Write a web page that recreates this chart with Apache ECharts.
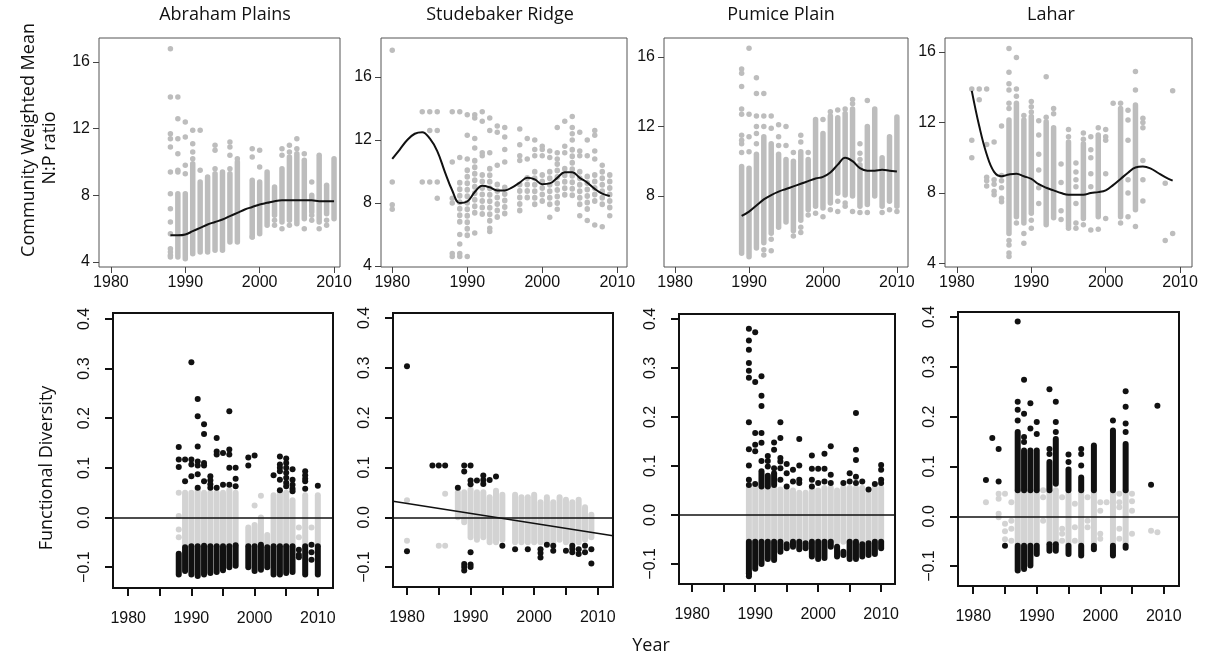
<!DOCTYPE html>
<html>
<head>
<meta charset="utf-8">
<script src="https://cdn.jsdelivr.net/npm/echarts@6/dist/echarts.min.js"></script>
<style>
    html, body { margin: 0; padding: 0; background: #fff; }
    #chart { width: 1208px; height: 656px; }
</style>
</head>
<body>
<div id="chart"></div>
<script>
(function () {
    'use strict';

    // column rows: [year, low, high]  point rows: [year, v1, v2, ...]

    // Abraham Plains - N:P
    var apNpCols = [[1989, 4.3, 8.1], [1990, 4.2, 8.1], [1991, 4.5, 9.9], [1992, 4.6, 8.8], [1993, 4.6, 9.1],
        [1994, 4.7, 9.3], [1995, 4.7, 9.4], [1996, 5.2, 9.3], [1997, 5.2, 10.0], [1999, 5.5, 8.9], [2000, 5.7, 8.8],
        [2001, 6.2, 9.4], [2002, 6.8, 8.5], [2003, 6.4, 9.6], [2004, 6.5, 10.3], [2005, 6.3, 10.5], [2006, 6.6, 10.1],
        [2007, 7.0, 8.0], [2008, 6.4, 10.4], [2009, 6.9, 8.6], [2010, 6.6, 10.2]];
    var apNpPts = [[1988, 16.8, 13.9, 11.7, 11.4, 10.9, 9.4, 8.1, 7.2, 6.4, 5.7, 4.8, 4.6, 4.4, 4.3],
        [1989, 13.9, 12.6, 11.4, 10.5, 9.5, 9.4], [1990, 12.4, 11.5, 9.8, 9.3], [1991, 11.9, 11.1, 10.6, 10.2],
        [1992, 11.9, 9.5], [1994, 11.0, 10.7, 9.6], [1996, 11.2, 10.9, 10.4, 9.6], [1997, 10.2],
        [1999, 10.8, 10.3, 5.5], [2000, 10.7, 9.7], [2002, 6.5, 6.2], [2003, 10.8, 10.4, 6.0], [2004, 11.0, 10.6, 6.2],
        [2005, 11.4, 10.8], [2006, 10.5, 6.0], [2007, 8.8, 6.8, 6.5], [2008, 6.0], [2009, 6.5, 6.2]];
    var apNpTrend = [[1988, 5.6], [1989, 5.6], [1990, 5.65], [1991, 5.85], [1992, 6.05], [1993, 6.25], [1994, 6.4],
        [1995, 6.55], [1996, 6.75], [1997, 6.95], [1998, 7.15], [1999, 7.3], [2000, 7.45], [2001, 7.55], [2002, 7.65],
        [2003, 7.7], [2004, 7.7], [2005, 7.7], [2006, 7.7], [2007, 7.7], [2008, 7.65], [2009, 7.65], [2010, 7.65]];

    // Studebaker Ridge - N:P
    var sbNpCols = [[1989, 6.8, 9.3], [1990, 5.7, 10.1], [1991, 7.0, 10.7], [1992, 7.2, 9.8], [1993, 6.8, 10.2],
        [1994, 7.0, 9.2], [1995, 7.2, 9.0], [1997, 7.2, 9.2], [1998, 8.0, 9.6], [1999, 7.6, 10.0], [2000, 8.0, 9.8],
        [2001, 7.8, 10.0], [2002, 7.6, 10.5], [2003, 8.4, 10.2], [2004, 8.4, 11.4], [2005, 7.6, 10.0],
        [2006, 7.6, 9.7], [2007, 7.8, 9.8], [2008, 7.9, 10.0], [2009, 7.4, 9.8]];
    var sbNpPts = [[1980, 17.7, 9.33, 7.9, 7.6], [1984, 13.8, 9.33], [1985, 13.8, 12.6, 9.33],
        [1986, 13.8, 12.6, 9.33, 8.3], [1988, 13.8, 10.6, 8.3, 8.0, 4.8, 4.6], [1989, 13.8, 10.9, 6.0, 5.4, 4.8, 4.6],
        [1990, 13.6, 12.3, 10.8, 4.6], [1991, 13.6, 13.4, 12.1, 11.5, 6.1], [1992, 13.8, 13.2, 11.2, 11.0],
        [1993, 13.4, 12.6, 11.2, 6.4, 6.2], [1994, 12.9, 12.5, 10.4], [1995, 12.8, 12.2, 11.4, 10.6],
        [1997, 12.7, 11.7, 11.0, 10.7], [1998, 12.1, 10.8], [1999, 12.0, 11.4, 11.0], [2000, 11.6, 11.4, 11.0],
        [2001, 11.3, 10.9, 7.1], [2002, 12.8, 11.2, 10.8], [2003, 13.2, 11.6, 11.2], [2004, 13.5, 12.8, 12.4, 12.0],
        [2005, 12.5, 11.3, 11.0, 7.2], [2006, 12.0, 11.0, 6.9], [2007, 12.6, 12.3, 11.3, 10.8, 6.6],
        [2008, 10.4, 6.5], [2009, 7.2]];
    var sbNpTrend = [[1980, 10.8], [1981, 11.4], [1982, 12.0], [1983, 12.4], [1984, 12.5], [1985, 12.1], [1986, 11.3],
        [1987, 10.0], [1988, 8.8], [1989, 8.0], [1990, 8.1], [1991, 8.7], [1992, 9.1], [1993, 9.0], [1994, 8.8],
        [1995, 8.8], [1996, 9.0], [1997, 9.3], [1998, 9.6], [1999, 9.5], [2000, 9.2], [2001, 9.25], [2002, 9.6],
        [2003, 9.95], [2004, 9.95], [2005, 9.6], [2006, 9.3], [2007, 8.9], [2008, 8.6], [2009, 8.45]];

    // Pumice Plain - N:P
    var pmNpCols = [[1989, 4.7, 9.7], [1990, 4.5, 9.6], [1991, 5.0, 10.4], [1992, 5.3, 11.4], [1993, 5.85, 11.0],
        [1994, 6.2, 10.4], [1995, 6.5, 10.1], [1996, 6.0, 10.0], [1997, 6.6, 10.55], [1998, 7.2, 10.1],
        [1999, 7.4, 12.4], [2000, 7.3, 11.6], [2001, 7.6, 12.6], [2002, 8.15, 12.5], [2003, 8.05, 12.75],
        [2004, 8.0, 13.0], [2005, 7.4, 9.8], [2006, 7.5, 12.0], [2007, 8.0, 13.0], [2008, 7.4, 10.2],
        [2009, 7.7, 11.4], [2010, 7.4, 12.55]];
    var pmNpPts = [[1989, 15.3, 15.06, 14.3, 13.0, 12.7, 11.5, 11.2, 11.0, 10.5], [1990, 16.5, 12.7, 11.4, 10.55],
        [1991, 14.8, 13.9, 12.6, 12.0, 11.6, 11.0], [1992, 13.9, 12.6, 12.0, 4.9, 4.6], [1993, 12.6, 11.9, 5.5, 4.85],
        [1994, 12.1, 11.4, 10.9], [1995, 12.0, 10.9], [1996, 10.5, 5.7], [1997, 11.5, 11.1, 6.2, 5.9],
        [1998, 10.5, 6.9], [1999, 7.0], [2000, 12.4, 6.8], [2001, 12.85, 7.2], [2002, 12.95, 7.7, 7.1],
        [2003, 13.0, 7.6, 7.4], [2004, 13.55, 13.3, 7.1], [2005, 11.0, 10.45, 10.1, 7.05], [2006, 13.5, 7.05],
        [2008, 7.05], [2009, 7.2], [2010, 7.1]];
    var pmNpTrend = [[1989, 6.85], [1990, 7.1], [1991, 7.45], [1992, 7.8], [1993, 8.05], [1994, 8.25], [1995, 8.4],
        [1996, 8.55], [1997, 8.7], [1998, 8.85], [1999, 9.0], [2000, 9.1], [2001, 9.35], [2002, 9.8], [2003, 10.2],
        [2004, 10.0], [2005, 9.6], [2006, 9.45], [2007, 9.45], [2008, 9.5], [2009, 9.45], [2010, 9.4]];

    // Lahar - N:P
    var lhNpCols = [[1987, 5.7, 12.15], [1988, 6.65, 13.1], [1989, 6.3, 12.15], [1990, 6.85, 12.35],
        [1992, 6.2, 12.05], [1993, 6.6, 11.7], [1995, 6.1, 10.9], [1997, 6.55, 10.8], [1999, 6.65, 11.2],
        [2002, 6.65, 12.8], [2004, 7.05, 13.0]];
    var lhNpPts = [[1982, 13.9, 11.0, 10.0], [1983, 13.9, 13.3], [1984, 13.9, 10.75, 8.9, 8.7, 8.4],
        [1985, 10.9, 8.75, 8.5, 8.1, 7.9], [1986, 11.8, 9.0, 8.7, 8.3, 7.7, 7.5],
        [1987, 16.2, 14.85, 14.2, 13.85, 13.1, 12.8, 5.3, 5.05, 4.6, 4.4], [1988, 15.7, 13.9, 13.5, 6.3],
        [1989, 12.4, 5.7, 5.15], [1990, 13.2, 12.9, 12.6, 6.45, 6.0], [1991, 12.1, 11.3, 10.2, 9.3, 8.3, 7.4],
        [1992, 14.6, 12.3], [1993, 12.8, 12.5], [1994, 9.65, 8.6, 7.0, 6.5], [1995, 11.6, 11.2, 6.0],
        [1996, 9.7, 9.2, 8.75, 8.35, 7.4, 6.3, 6.0], [1997, 11.4, 11.05, 6.2],
        [1998, 11.2, 10.45, 10.0, 9.1, 8.35, 5.9], [1999, 11.7, 11.3, 5.95], [2000, 11.6, 11.2, 11.0, 9.1, 6.55],
        [2001, 13.1], [2002, 13.1, 6.3], [2003, 12.7, 12.15, 11.0, 8.75, 8.0, 6.65], [2004, 14.9, 13.85, 6.1],
        [2005, 12.25, 12.0, 11.7, 9.85, 8.75, 7.55], [2008, 8.55, 5.3], [2009, 13.8, 5.7]];
    var lhNpTrend = [[1982, 13.8], [1983, 11.8], [1984, 10.2], [1985, 9.2], [1986, 8.95], [1987, 9.05], [1988, 9.1],
        [1989, 8.95], [1990, 8.8], [1991, 8.5], [1992, 8.3], [1993, 8.15], [1994, 8.0], [1995, 7.9], [1996, 7.9],
        [1997, 7.9], [1998, 8.0], [1999, 8.05], [2000, 8.15], [2001, 8.45], [2002, 8.8], [2003, 9.15], [2004, 9.45],
        [2005, 9.5], [2006, 9.4], [2007, 9.15], [2008, 8.9], [2009, 8.7]];

    // Abraham Plains - functional diversity
    var apFdGrayCols = [[1989, -0.058, 0.05], [1990, -0.058, 0.05], [1991, -0.058, 0.058], [1992, -0.058, 0.05],
        [1993, -0.058, 0.05], [1994, -0.058, 0.05], [1995, -0.058, 0.05], [1996, -0.058, 0.055], [1997, -0.058, 0.05],
        [1999, -0.058, -0.02], [2000, -0.058, -0.015], [2001, -0.058, 0.0], [2002, -0.058, -0.035],
        [2003, -0.058, 0.045], [2004, -0.058, 0.05], [2005, -0.058, 0.05], [2006, -0.058, 0.035],
        [2008, -0.058, 0.045], [2010, -0.058, 0.045]];
    var apFdGrayPts = [[1988, 0.05, 0.003, -0.024, -0.04], [2000, 0.024], [2001, 0.044], [2007, -0.02, -0.04],
        [2009, -0.02]];
    var apFdBlackCols = [[1988, -0.115, -0.073], [1989, -0.108, -0.06], [1990, -0.115, -0.058], [1991, -0.118, -0.058],
        [1992, -0.115, -0.057], [1993, -0.112, -0.058], [1994, -0.11, -0.058], [1995, -0.106, -0.058],
        [1996, -0.1, -0.058], [1997, -0.097, -0.056], [1999, -0.1, -0.058], [2000, -0.108, -0.058],
        [2001, -0.105, -0.055], [2002, -0.1, -0.06], [2003, -0.115, -0.058], [2004, -0.115, -0.058],
        [2005, -0.112, -0.058], [2006, -0.11, -0.058], [2008, -0.115, -0.058], [2010, -0.115, -0.058]];
    var apFdBlackPts = [[1988, 0.142, 0.117, 0.102], [1989, 0.117, 0.073], [1990, 0.313, 0.117, 0.107, 0.083],
        [1991, 0.239, 0.204, 0.143, 0.113, 0.105, 0.087, 0.06], [1992, 0.188, 0.168, 0.11, 0.105, 0.073],
        [1993, 0.083, 0.075, 0.067, 0.06], [1994, 0.16, 0.133, 0.127, 0.06], [1995, 0.13, 0.066],
        [1996, 0.214, 0.137, 0.127, 0.1, 0.066], [1997, 0.1, 0.078, 0.063], [1999, 0.121, 0.105], [2000, 0.125],
        [2003, 0.085], [2004, 0.123, 0.107, 0.1, 0.093, 0.076, 0.055], [2005, 0.119, 0.11, 0.1, 0.09, 0.08, 0.07, 0.063],
        [2006, 0.097, 0.076, 0.066, 0.058, 0.053], [2007, -0.065, -0.075, -0.08],
        [2008, 0.093, 0.085, 0.078, 0.073, 0.058], [2009, -0.055, -0.07, -0.085], [2010, 0.064]];

    // Studebaker Ridge - functional diversity
    var sbFdGrayCols = [[1988, 0.0, 0.05], [1989, -0.01, 0.05], [1990, -0.04, 0.055], [1991, -0.045, 0.05],
        [1992, -0.04, 0.05], [1993, -0.05, 0.04], [1994, -0.05, 0.053], [1995, -0.045, 0.045], [1997, -0.05, 0.045],
        [1998, -0.05, 0.04], [1999, -0.05, 0.04], [2000, -0.05, 0.045], [2001, -0.05, 0.03], [2002, -0.05, 0.04],
        [2003, -0.05, 0.03], [2004, -0.045, 0.04], [2005, -0.05, 0.035], [2006, -0.05, 0.03], [2007, -0.05, 0.035],
        [2008, -0.045, 0.02], [2009, -0.04, 0.005]];
    var sbFdGrayPts = [[1980, 0.034, -0.047], [1985, -0.057], [1986, 0.047, -0.057]];
    var sbFdBlackPts = [[1980, 0.303, -0.068], [1984, 0.104], [1985, 0.104], [1986, 0.104], [1988, 0.059],
        [1989, 0.104, 0.092, -0.094, -0.1, -0.107], [1990, 0.104, 0.074, 0.066, -0.07, -0.095, -0.1], [1991, 0.074],
        [1992, 0.084, 0.075, 0.067], [1993, 0.075], [1994, 0.082], [1995, -0.057], [1997, -0.064], [1999, -0.064],
        [2001, -0.064, -0.072, -0.081], [2002, -0.055], [2003, -0.057, -0.067], [2005, -0.067],
        [2006, -0.057, -0.063, -0.07], [2007, -0.064, -0.074], [2008, -0.057, -0.07], [2009, -0.064, -0.093]];
    var sbFdTrend = [[1977.8, 0.032], [2012.4, -0.037]];

    // Pumice Plain - functional diversity
    var pmFdGrayCols = [[1989, -0.055, 0.055], [1990, -0.055, 0.055], [1991, -0.055, 0.055], [1992, -0.055, 0.055],
        [1993, -0.055, 0.055], [1994, -0.055, 0.052], [1995, -0.055, 0.05], [1996, -0.055, 0.05], [1997, -0.055, 0.045],
        [1998, -0.055, 0.045], [1999, -0.055, 0.055], [2000, -0.055, 0.05], [2001, -0.055, 0.055], [2002, -0.055, 0.055],
        [2003, -0.055, 0.05], [2004, -0.055, 0.055], [2005, -0.055, 0.055], [2006, -0.055, 0.055], [2007, -0.055, 0.055],
        [2008, -0.055, 0.045], [2009, -0.055, 0.055], [2010, -0.055, 0.055]];
    var pmFdBlackCols = [[1989, -0.12, -0.055], [1990, -0.11, -0.055], [1991, -0.1, -0.055], [1992, -0.09, -0.055],
        [1993, -0.092, -0.055], [1994, -0.075, -0.055], [1995, -0.068, -0.06], [1996, -0.065, -0.055],
        [1997, -0.07, -0.055], [1998, -0.068, -0.058], [1999, -0.085, -0.055], [2000, -0.09, -0.055],
        [2001, -0.088, -0.055], [2002, -0.065, -0.055], [2003, -0.085, -0.065], [2004, -0.082, -0.075],
        [2005, -0.09, -0.055], [2006, -0.09, -0.055], [2007, -0.085, -0.06], [2008, -0.082, -0.058],
        [2009, -0.08, -0.055], [2010, -0.068, -0.055],
        [1991, 0.058, 0.089], [1992, 0.058, 0.08], [1993, 0.061, 0.085]];
    var pmFdBlackPts = [[1989, 0.38, 0.356, 0.337, 0.31, 0.294, 0.28, 0.189, 0.134, 0.101, 0.072, 0.061, -0.12, -0.125],
        [1990, 0.373, 0.271, 0.167, 0.143, 0.13, 0.063], [1991, 0.283, 0.243, 0.222, 0.167, 0.147, 0.11],
        [1992, 0.12, 0.11, 0.099], [1993, 0.148, 0.133, 0.095], [1994, 0.189, 0.157, 0.116, 0.109, 0.095, 0.072],
        [1995, 0.104, 0.085, 0.058], [1996, 0.092, 0.068], [1997, 0.155, 0.101, 0.072, 0.065],
        [1999, 0.121, 0.094, 0.072, 0.058], [2000, 0.094, 0.065], [2001, 0.125, 0.094, 0.068],
        [2002, 0.14, 0.082, 0.065], [2004, 0.065], [2005, 0.085, 0.068], [2006, 0.208, 0.133, 0.112, 0.078, 0.065],
        [2007, 0.068], [2008, 0.052], [2009, 0.063], [2010, 0.102, 0.092, 0.072, 0.065]];

    // Lahar - functional diversity
    var lhFdGrayCols = [[1987, -0.055, 0.052], [1988, -0.055, 0.052], [1989, -0.055, 0.052], [1990, -0.055, 0.052],
        [1992, -0.055, 0.052], [1993, -0.055, 0.052], [1995, -0.055, 0.045], [1997, -0.055, 0.05], [1999, -0.055, 0.052],
        [2002, -0.055, 0.052], [2004, -0.055, 0.052]];
    var lhFdGrayPts = [[1982, 0.028], [1984, 0.045, 0.035, 0.005, -0.002], [1985, 0.045, -0.015, -0.03, -0.046],
        [1986, 0.028, -0.009, -0.025, -0.049], [1991, 0.052, 0.038, -0.009], [1994, 0.038, -0.025, -0.035, -0.049],
        [1996, 0.025, -0.022, -0.049], [1998, 0.038, -0.009, -0.022], [2000, 0.028, 0.011, -0.035, -0.045],
        [2001, 0.028], [2003, 0.045, 0.028, 0.018, -0.025, -0.045], [2005, 0.045, 0.03, 0.011, -0.035],
        [2008, -0.029], [2009, -0.032]];
    var lhFdBlackCols = [[1987, 0.052, 0.169], [1988, 0.052, 0.132], [1989, 0.052, 0.132], [1990, 0.052, 0.132],
        [1992, 0.052, 0.109], [1993, 0.065, 0.155], [1995, 0.052, 0.094], [1997, 0.052, 0.078], [1999, 0.052, 0.142],
        [2002, 0.052, 0.172], [2004, 0.052, 0.145],
        [1987, -0.109, -0.059], [1988, -0.106, -0.059], [1989, -0.099, -0.059], [1990, -0.076, -0.059],
        [1992, -0.069, -0.056], [1993, -0.069, -0.056], [1995, -0.076, -0.059], [1997, -0.079, -0.059],
        [1999, -0.066, -0.059], [2002, -0.079, -0.059], [2004, -0.063, -0.059]];
    var lhFdBlackPts = [[1982, 0.073], [1983, 0.157], [1984, 0.135, 0.07], [1985, -0.059],
        [1987, 0.391, 0.23, 0.214, 0.192], [1988, 0.274, 0.206, 0.159, 0.149], [1989, 0.227, 0.176],
        [1990, 0.189, 0.165], [1992, 0.255, 0.135, 0.125], [1993, 0.23, 0.189, 0.169], [1995, 0.124, 0.109],
        [1997, 0.135, 0.125, 0.102], [2002, 0.192], [2004, 0.251, 0.22, 0.186, 0.169], [2008, 0.063], [2009, 0.222]];

    var siteNames = ['Abraham Plains', 'Studebaker Ridge', 'Pumice Plain', 'Lahar'];

    var GRAY = '#bdbdbd';
    var LIGHT = '#d3d3d3';
    var INK = '#111';
    var TICK_FONT = '"Liberation Sans", Arial, sans-serif';
    var TEXT_FONT = '"Open Sans", "Noto Sans", sans-serif';

    function expand(rows) {
        var out = [];
        rows.forEach(function (r) {
            for (var i = 1; i < r.length; i++) {
                out.push([r[0], r[i]]);
            }
        });
        return out;
    }

    function colRenderer(width, dash) {
        return function (params, api) {
            var hi = api.coord([api.value(0), api.value(2)]);
            var lo = api.coord([api.value(0), api.value(1)]);
            return {
                type: 'line',
                shape: {x1: hi[0], y1: hi[1], x2: lo[0], y2: lo[1]},
                style: {stroke: api.visual('color'), lineWidth: width, lineCap: 'round', lineDash: dash || null}
            };
        };
    }

    var panels = [
        {grid: [99, 38, 241, 229], x: [1978.4, 2010.8], y: [3.7, 17.44], yTicks: [4, 8, 12, 16],
            grayCols: apNpCols, grayPts: apNpPts, trend: apNpTrend},
        {grid: [381, 38, 246, 229], x: [1978.5, 2011.3], y: [3.94, 18.48], yTicks: [4, 8, 12, 16],
            grayCols: sbNpCols, grayPts: sbNpPts, trend: sbNpTrend, dotted: true},
        {grid: [664, 38, 244, 229], x: [1978.5, 2011.5], y: [3.91, 17.09], yTicks: [8, 12, 16],
            grayCols: pmNpCols, grayPts: pmNpPts, trend: pmNpTrend},
        {grid: [945, 38, 247, 229], x: [1978.4, 2011.6], y: [3.8, 16.8], yTicks: [4, 8, 12, 16],
            grayCols: lhNpCols, grayPts: lhNpPts, trend: lhNpTrend},
        {grid: [113, 313, 220, 275], x: [1977.6, 2012.4], y: [-0.142, 0.412], fd: true,
            grayCols: apFdGrayCols, grayPts: apFdGrayPts, blackCols: apFdBlackCols, blackPts: apFdBlackPts},
        {grid: [393, 313, 220, 274], x: [1977.8, 2012.4], y: [-0.14, 0.41], fd: true,
            grayCols: sbFdGrayCols, grayPts: sbFdGrayPts, blackCols: [], blackPts: sbFdBlackPts, trend: sbFdTrend, straight: true},
        {grid: [679, 314, 216, 270], x: [1977.9, 2012.2], y: [-0.141, 0.41], fd: true,
            grayCols: pmFdGrayCols, grayPts: [], blackCols: pmFdBlackCols, blackPts: pmFdBlackPts},
        {grid: [958, 312, 221, 274], x: [1977.6, 2012.4], y: [-0.14, 0.41], fd: true,
            grayCols: lhFdGrayCols, grayPts: lhFdGrayPts, blackCols: lhFdBlackCols, blackPts: lhFdBlackPts}
    ];

    var grids = [], xAxes = [], yAxes = [], series = [];

    panels.forEach(function (p, i) {
        var fd = !!p.fd;
        grids.push({
            left: p.grid[0], top: p.grid[1], width: p.grid[2], height: p.grid[3],
            show: true, backgroundColor: 'transparent',
            borderColor: fd ? INK : '#555', borderWidth: fd ? 2 : 1
        });
        xAxes.push({
            type: 'value', gridIndex: i, min: p.x[0], max: p.x[1],
            splitLine: {show: false},
            axisLine: {show: false, onZero: false},
            axisTick: {show: true, inside: false, length: fd ? 8 : 6,
                customValues: fd ? [1980, 1985, 1990, 1995, 2000, 2005, 2010] : [1980, 1990, 2000, 2010],
                lineStyle: {color: fd ? INK : '#444', width: fd ? 2 : 1}},
            axisLabel: {customValues: [1980, 1990, 2000, 2010], margin: fd ? 23 : 8,
                formatter: function (v) { return String(v); },
                color: '#111', fontSize: 16, fontFamily: TICK_FONT}
        });
        yAxes.push({
            type: 'value', gridIndex: i, min: p.y[0], max: p.y[1],
            splitLine: {show: false},
            axisLine: {show: false, onZero: false},
            axisTick: {show: true, inside: false, length: fd ? 8 : 6,
                customValues: fd ? [-0.1, 0, 0.1, 0.2, 0.3, 0.4] : p.yTicks,
                lineStyle: {color: fd ? INK : '#444', width: fd ? 2 : 1}},
            axisLabel: {customValues: fd ? [-0.1, 0, 0.1, 0.2, 0.3, 0.4] : p.yTicks,
                rotate: fd ? 90 : 0, margin: fd ? 20 : 9,
                formatter: function (v) { return fd ? v.toFixed(1).replace('-', '\u2212') : String(v); },
                color: '#111', fontSize: 16, fontFamily: TICK_FONT}
        });

        var soft = fd ? LIGHT : GRAY;
        var dot = fd ? 6 : 5.5;

        series.push({
            type: 'custom', xAxisIndex: i, yAxisIndex: i, silent: true,
            renderItem: colRenderer(dot, p.dotted ? [0.5, 6] : null),
            itemStyle: {color: soft},
            encode: {x: 0, y: [1, 2]},
            data: p.grayCols
        });
        series.push({
            type: 'scatter', xAxisIndex: i, yAxisIndex: i, silent: true,
            symbol: 'circle', symbolSize: dot, itemStyle: {color: soft, opacity: 1},
            data: expand(p.grayPts)
        });
        if (fd) {
            series.push({
                type: 'custom', xAxisIndex: i, yAxisIndex: i, silent: true,
                renderItem: colRenderer(dot),
                itemStyle: {color: INK},
                encode: {x: 0, y: [1, 2]},
                data: p.blackCols
            });
            series.push({
                type: 'scatter', xAxisIndex: i, yAxisIndex: i, silent: true,
                symbol: 'circle', symbolSize: dot, itemStyle: {color: INK, opacity: 1},
                data: expand(p.blackPts),
                markLine: {
                    silent: true, symbol: 'none', label: {show: false},
                    lineStyle: {color: INK, width: 1.6, type: 'solid'},
                    data: [{yAxis: 0}]
                }
            });
        }
        if (p.trend) {
            series.push({
                type: 'line', xAxisIndex: i, yAxisIndex: i, silent: true,
                smooth: p.straight ? false : 0.4, showSymbol: false, symbol: 'none',
                lineStyle: {color: INK, width: p.straight ? 1.5 : 2},
                data: p.trend
            });
        }
    });

    var titleX = [225, 500, 781, 1051];
    var graphics = siteNames.map(function (name, k) {
        return {
            type: 'text', x: titleX[k], y: 15,
            style: {text: name, font: '18px ' + TEXT_FONT, fill: '#111', textAlign: 'center', textVerticalAlign: 'middle'}
        };
    });
    graphics.push(
        {type: 'text', x: 29, y: 140, rotation: Math.PI / 2,
            style: {text: 'Community Weighted Mean', font: '18px ' + TEXT_FONT, fill: '#111', textAlign: 'center', textVerticalAlign: 'middle'}},
        {type: 'text', x: 50, y: 148, rotation: Math.PI / 2,
            style: {text: 'N:P ratio', font: '18px ' + TEXT_FONT, fill: '#111', textAlign: 'center', textVerticalAlign: 'middle'}},
        {type: 'text', x: 47, y: 468, rotation: Math.PI / 2,
            style: {text: 'Functional Diversity', font: '18px ' + TEXT_FONT, fill: '#111', textAlign: 'center', textVerticalAlign: 'middle'}},
        {type: 'text', x: 651, y: 646,
            style: {text: 'Year', font: '18px ' + TEXT_FONT, fill: '#111', textAlign: 'center', textVerticalAlign: 'middle'}}
    );

    var myChart = echarts.init(document.getElementById('chart'), null, {renderer: 'canvas'});
    myChart.setOption({
        animation: false,
        backgroundColor: '#fff',
        grid: grids,
        xAxis: xAxes,
        yAxis: yAxes,
        series: series,
        graphic: graphics
    });
})();
</script>
</body>
</html>
